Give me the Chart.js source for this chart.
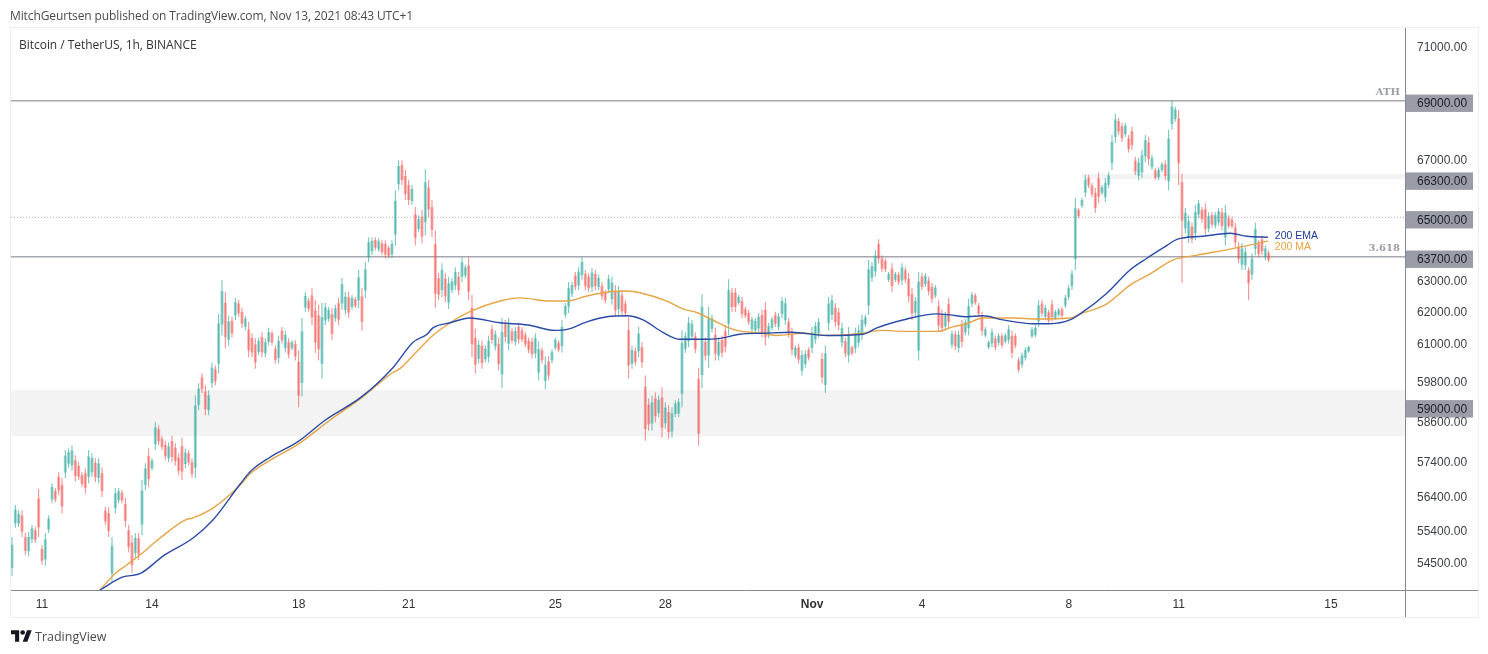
<!DOCTYPE html>
<html><head><meta charset="utf-8">
<script src="https://cdn.jsdelivr.net/npm/chart.js@4"></script>
<style>
html,body{margin:0;padding:0;background:#fff;width:1488px;height:654px;overflow:hidden;font-family:"Open Sans","Liberation Sans",sans-serif}
#wrap{position:relative;width:1488px;height:654px}
canvas{position:absolute;left:0;top:0}
.t{position:absolute;white-space:nowrap;color:#4a4a4a;font-size:12px;line-height:16px}
#frame{position:absolute;left:10px;top:27px;width:1467px;height:589px;border:1px solid #eceef4}
</style></head><body>
<div id="wrap">
<div id="frame"></div>
<canvas id="c" width="1488" height="654"></canvas>
<div class="t" style="left:10px;top:8px;letter-spacing:-.11px">MitchGeurtsen published on TradingView.com, Nov 13, 2021 08:43 UTC+1</div>
<div class="t" style="left:19px;top:37px;color:#333;letter-spacing:-.03px">Bitcoin / TetherUS, 1h, BINANCE</div>
<svg style="position:absolute;left:11px;top:630px" width="21" height="12" viewBox="0 0 36 20"><path fill="#131722" d="M14 20H7V7H0V0h14v20zM28 20h-8L27.500 0h8L28 20z"/><circle fill="#131722" cx="20" cy="4" r="4"/></svg>
<div class="t" style="left:35px;top:629px;font-size:12.500px;color:#4a4a4a">TradingView</div>
</div>
<script>
const dayLabels=['11','14','18','21','25','28','Nov','4','8','11','15'];
const dayTicks=[0,3,7,10,14,17,21,24,28,31,35.15];
const priceTicks=[71000,69000,67000,66300,65000,63700,63000,62000,61000,59800,59000,58600,57400,56400,55400,54500];
const boxedPrices=[69000,66300,65000,63700,59000];
const solidLevels=[69000,63700];
const dottedLevels=[65000];
const zoneLows=[58100,66290];
const zoneHighs=[59490,66460];
const zoneStarts=[-0.845,28.36];
const firstBarDay=-0.818;
const barStepDays=0.0909;

const highs=[
55180,56090,55940,55940,55290,55320,55520,55460,56550,54950,
55290,55800,56720,56580,57040,56870,57690,57740,57830,57540,
57330,57040,57160,57690,57600,57450,57450,57180,56030,56030,
55180,56580,56580,56520,56290,55520,55230,55290,55290,56810,
57300,57740,57450,58520,58430,58120,57970,57920,58120,57890,
57600,58060,57740,57690,57450,59330,59700,60000,59640,59490,
60340,60250,61860,62940,62560,61800,61770,62370,62300,62050,
61800,61610,61250,61090,61120,61280,61090,61420,61340,60870,
61180,61450,61340,61090,61030,61030,60720,61730,62560,62370,
62690,62300,62150,62210,62210,62080,62050,62150,62370,63010,
62560,62560,62460,62400,63270,62690,63520,64340,64340,64340,
64300,64240,64240,64070,64240,65910,66930,66930,66590,66250,
66080,65340,65070,65240,66620,66250,65580,64560,63170,63490,
63170,63050,63010,63360,63200,63680,63430,63680,62460,61390,
61030,61030,60870,61180,61510,61340,61120,61730,61670,61730,
61420,61450,61580,61450,61280,61120,61120,61250,61000,60810,
60530,60530,60750,61120,61030,61670,62210,62880,62880,63200,
63360,63680,63270,63170,63330,63270,63110,62880,62620,63110,
63050,62780,62750,62620,62300,61770,60870,60810,61450,60970,
59940,59240,59330,59420,59330,59580,59120,59030,58970,59180,
59240,61340,61280,61770,61670,61280,60180,62490,61120,62080,
61830,61420,61120,61180,61510,62970,62690,62690,62460,62400,
62080,61990,61770,61730,61890,61990,62240,61580,61770,61930,
61890,62400,62370,61730,61420,60870,60930,60720,60720,60810,
61450,61610,61730,60630,60870,62400,62460,62210,62050,61580,
61120,61450,60870,61420,61510,61830,61830,63590,63520,63910,
64270,63750,63650,63200,63490,63200,63200,63490,63360,63170,
62690,62400,63200,63170,63170,63050,62850,62780,62300,61990,
61930,62370,61340,61340,61340,61670,61700,62340,62560,62520,
62210,61930,61450,61030,61400,61180,61250,61250,61250,61510,
61340,61250,60500,60650,60810,60870,61450,61510,62300,62300,
62150,61990,62300,61990,62050,62080,62460,62780,63270,65650,
65310,65650,66420,66420,66150,65980,66520,66080,66320,66520,
67800,68540,68400,68230,68230,67800,68090,67050,67020,67290,
67800,67730,67120,66660,66690,66860,66930,67980,69000,68790,
68660,66470,65310,65070,64820,65410,65580,65340,65480,65170,
65170,65170,65310,65310,65410,65070,65010,64820,64170,64140,
64010,63360,63810,64820,64240,64400,64070,63910];
const lows=[
54090,55440,55460,55180,54670,54640,55010,55010,55180,54400,
54370,55290,56140,56170,56380,55850,56870,57180,57090,56780,
56810,56610,56430,56720,56900,56750,56720,56320,55520,55180,
53900,55850,56140,56140,55460,54750,54180,54590,54530,55230,
56520,56610,57090,57690,57830,57690,57390,57330,57330,57240,
56950,56810,57160,57240,56870,56870,58880,59400,58730,58730,
59550,59640,60000,61180,60780,60870,61120,61670,61770,61420,
61340,60500,60500,60150,60560,60500,60500,60870,60870,60310,
60310,60930,60650,60470,60720,60400,58970,59300,61930,61930,
61510,60630,60400,59850,61510,61610,61030,61610,61510,61990,
61830,61730,61990,62050,62050,61340,62370,63520,63750,63910,
63850,63750,63650,63650,63650,64070,65910,66080,65580,65410,
65410,64070,64500,64140,64400,65010,64340,62050,62300,62400,
62240,62020,62520,62620,62460,62880,63010,62300,60500,60000,
60310,60150,60340,60340,60930,60720,60090,59550,60970,60720,
60930,60870,60930,60970,60810,60630,60470,60470,59790,60310,
59520,59790,60310,60720,60650,60650,61730,61890,62400,62620,
62620,62950,62620,62560,62560,62620,62620,62300,62210,62520,
62150,61770,61830,61770,61770,59850,60150,60250,60500,60180,
57970,58270,58270,58520,58670,58060,58330,58030,58060,58670,
58670,58970,60630,60810,61030,60630,57830,59550,60400,60180,
61280,60400,60400,60500,60650,61180,61930,61930,62150,61730,
61730,61510,61280,61250,61280,61120,60870,61090,61340,61450,
61340,61730,61510,61120,60560,60470,60310,59940,60180,60400,
60630,60930,61120,59700,59400,61340,61670,61450,61340,60810,
60500,60340,60560,60630,60810,61030,61450,61830,62880,63050,
63490,63200,63200,62880,62560,62880,62780,62780,62850,62240,
61670,61770,60400,62620,62720,62460,62210,62370,61280,61280,
61340,61400,60780,60720,60650,60810,61180,61180,62080,62150,
61770,61180,61120,60750,60810,60720,60870,60780,60930,60930,
60470,60780,60030,60180,60400,60630,61090,61120,61450,61770,
61670,61580,61610,61670,61770,61730,62050,62300,62620,63270,
64970,65310,65680,65980,65680,65140,65480,65750,65510,65980,
66590,67530,67800,67560,67730,67190,67290,66420,66250,66320,
66860,66760,66590,66250,66250,66520,66250,65910,67980,68260,
66080,62850,64470,64140,64140,64240,64970,64820,64400,64500,
64660,64630,64720,64560,64070,64630,64630,64010,63490,63270,
63270,62300,62950,63750,63680,63750,63590,63520];
const bodyHighs=[
54960,55960,55840,55790,55170,55180,55420,55370,56280,54840,
55110,55700,56610,56500,56910,56670,57530,57630,57680,57390,
57230,56950,57010,57500,57460,57310,57300,57010,55930,55860,
54930,56430,56490,56440,56120,55370,55020,55150,55140,56510,
57150,57510,57380,58360,58310,58030,57850,57800,57960,57760,
57470,57810,57620,57600,57330,59030,59540,59880,59450,59330,
60180,60130,61560,62590,62210,61620,61640,62230,62190,61920,
61710,61370,61100,60900,61010,61130,60970,61290,61250,60760,
61010,61330,61200,60970,60970,60910,60360,61310,62430,62280,
62450,61970,61810,61760,62070,61990,61850,62040,62200,62810,
62410,62390,62370,62330,63030,62420,63290,64180,64220,64250,
64210,64140,64120,63990,64120,65550,66730,66760,66390,66080,
65950,65090,64940,65020,66180,66000,65340,64110,63000,63270,
62990,62840,62900,63210,63050,63520,63350,63410,62060,61100,
60890,60860,60770,61010,61380,61220,60920,61290,61530,61530,
61310,61320,61450,61340,61190,61020,60990,61100,60760,60710,
60270,60370,60660,61040,60950,61450,62110,62680,62780,63090,
63210,63530,63140,63050,63180,63140,63010,62760,62540,62980,
62860,62580,62570,62450,62190,61350,60730,60700,61240,60810,
59590,59050,59120,59240,59200,59270,58960,58830,58790,59080,
59130,60940,61150,61580,61550,61150,59830,62090,60980,61710,
61720,61200,60980,61040,61320,62620,62540,62540,62400,62270,
62010,61890,61680,61640,61770,61820,61990,61470,61690,61830,
61780,62270,62200,61610,61230,60790,60810,60570,60610,60730,
61270,61480,61610,60450,60620,62190,62300,62060,61910,61410,
61000,61220,60810,61250,61350,61670,61750,63290,63390,63740,
64120,63640,63560,63140,63310,63140,63120,63350,63260,62980,
62490,62270,62890,63060,63080,62920,62720,62700,62100,61850,
61820,62180,61230,61220,61200,61500,61600,62110,62460,62450,
62120,61780,61370,60970,61280,61090,61170,61160,61190,61380,
61170,61160,60400,60560,60730,60820,61360,61420,62130,62190,
62050,61910,62160,61930,61990,62010,62380,62680,63140,65300,
65240,65580,66270,66330,66060,65810,66310,66010,66160,66410,
67560,68340,68280,68100,68130,67680,67930,66910,66850,67100,
67620,67540,67000,66580,66600,66790,66790,67680,68790,68690,
68380,66180,65150,64870,64690,65180,65460,65240,65270,65040,
65070,65070,65200,65160,65150,64970,64920,64660,64030,63970,
63860,63260,63640,64610,64130,64270,63970,63830];
const bodyLows=[
54310,55570,55560,55330,54790,54780,55110,55100,55450,54510,
54550,55390,56250,56250,56510,56050,57030,57290,57240,56930,
56910,56700,56580,56910,57040,56890,56870,56490,55620,55350,
54150,56000,56230,56220,55630,54900,54390,54730,54680,55530,
56670,56840,57160,57860,57950,57780,57510,57450,57490,57370,
57080,57060,57280,57330,56990,57170,59040,59520,58910,58880,
59710,59760,60300,61530,61130,61050,61250,61810,61880,61550,
61450,60720,60650,60340,60670,60650,60620,60980,60960,60420,
60480,61030,60790,60590,60780,60520,59320,59710,62060,62020,
61750,60960,60750,60300,61650,61700,61230,61720,61680,62190,
61980,61900,62080,62120,62290,61610,62610,63680,63870,64000,
63940,63850,63770,63730,63770,64430,66110,66250,65780,65580,
65540,64320,64610,64360,64840,65260,64580,62500,62470,62620,
62420,62220,62620,62770,62610,63050,63090,62570,60900,60270,
60450,60320,60440,60510,61040,60840,60290,59970,61130,60920,
61020,60980,61060,61060,60900,60730,60600,60620,60030,60410,
59770,59940,60400,60800,60730,60850,61830,62090,62500,62730,
62770,63100,62750,62680,62710,62750,62720,62420,62290,62640,
62330,61970,62010,61940,61880,60250,60300,60360,60690,60350,
58320,58460,58480,58700,58800,58360,58490,58230,58240,58770,
58780,59380,60760,61000,61150,60760,58180,59950,60550,60560,
61390,60610,60550,60640,60820,61550,62080,62080,62210,61860,
61800,61610,61370,61340,61400,61290,61120,61180,61420,61550,
61450,61860,61660,61240,60730,60550,60430,60090,60290,60480,
60790,61060,61240,59880,59650,61570,61830,61600,61500,60960,
60620,60560,60620,60780,60950,61210,61530,62130,63020,63220,
63640,63310,63290,62950,62740,62950,62870,62930,62960,62420,
61870,61900,60710,62730,62810,62580,62340,62450,61500,61420,
61470,61610,60890,60840,60790,60980,61280,61410,62180,62220,
61860,61330,61180,60810,60930,60810,60950,60870,60990,61040,
60640,60870,60120,60270,60480,60680,61160,61190,61620,61880,
61770,61640,61750,61730,61830,61800,62130,62400,62750,63620,
65040,65380,65830,66070,65770,65310,65690,65820,65670,66090,
66830,67730,67920,67690,67830,67310,67450,66540,66400,66510,
67060,66970,66690,66330,66340,66590,66390,66210,68180,68360,
66820,64890,64630,64320,64270,64470,65090,64940,64610,64630,
64760,64730,64830,64710,64330,64710,64700,64170,63630,63440,
63420,62840,63120,63960,63790,63880,63690,63600];
const barColours=(
'GGGRRGGRRR GGGRRRGGGR RRRGGRGRRR GGGRRRRGRG GRGGRRRGRR RRGRRGGRRG GRGGRGRGRR GRRRGRGGRR GRGRGRRGGR RRRGGGRGRG '+
'GRGRGRGGGR GRRRGGGRRR GRGRGRRRRG RGGGRGGRRR GRGGRGRGRG RGRRRRRGGR GRGGRGGGGR GGRRGRGRRG GRGRRRGRGR RRGRGRGRGG '+
'GGGGGRRGRG GRGRRGRRGR RRGGGRRGGR GGGRRGRGGR GGGRGGGRRG RGRGGGGGGG RRRGRGRGRR RGGRGRRGRR GRGRGRGGGR RRGGGRGRGG '+
'RRRGGGGGGR GRRGGRGGGG RGGRRRRGGG GGRRGRRRGG GRGRGGRGGG RRGGRGGRRG RGGRGRRRRG GRGGRRGR').replace(/ /g,'');

const emaDays=[1.58,2.21,2.67,3.30,4.12,4.66,5.40,5.67,6.22,6.98,7.72,8.73,9.57,10.12,10.50,10.66,11.13,11.67,12.49,13.25,13.99,14.32,14.86,15.41,15.95,16.39,16.93,17.40,17.94,18.49,19.03,19.66,20.45,21.41,22.39,22.77,23.59,24.41,24.76,25.22,25.66,26.21,27.02,27.49,28.03,28.31,29.04,29.67,30.13,30.68,30.95,31.66,32.40,32.86,33.43];
const emaValues=[53700,54060,54150,54640,55150,55660,56690,57050,57480,57940,58580,59300,60180,60970,61220,61420,61580,61730,61580,61510,61340,61370,61610,61770,61800,61670,61280,61060,61060,61090,61220,61250,61280,61180,61220,61420,61700,61860,61830,61770,61800,61670,61550,61550,61670,61860,62520,63270,63650,64070,64270,64370,64470,64370,64340];
const maDays=[1.58,1.99,2.32,2.67,3.22,3.90,4.12,4.66,5.40,5.67,6.22,6.98,7.85,8.73,9.57,9.76,10.23,10.66,11.13,11.67,12.49,13.04,13.85,14.32,14.86,15.41,15.95,16.36,17.04,17.48,17.89,18.49,18.95,19.66,20.04,20.75,21.41,22.39,22.85,23.59,24.41,24.84,25.22,25.66,26.48,27.13,28.03,28.31,29.04,29.67,30.22,30.84,31.50,32.40,33.43];
const maValues=[53700,54150,54400,54670,55150,55660,55720,56000,56660,56990,57390,57860,58580,59270,60030,60150,60690,61180,61580,61930,62270,62370,62270,62270,62430,62560,62590,62520,62270,62020,61890,61550,61340,61250,61180,61250,61180,61250,61340,61310,61310,61450,61550,61730,61730,61700,61730,61860,62180,62780,63140,63590,63750,63950,64210];

const xMin=-0.845,xMax=37.17,yMin=53700,yMax=71620;
const TEAL='38,166,154',RED='239,83,80';
const rgb=i=>barColours[i]==='G'?TEAL:RED;
const dayOf=i=>firstBarDay+i*barStepDays;
const count=Math.min(highs.length,lows.length,bodyHighs.length,bodyLows.length,barColours.length);
if(new Set([highs.length,lows.length,bodyHighs.length,bodyLows.length,barColours.length]).size>1)console.error('length mismatch',highs.length,lows.length,bodyHighs.length,bodyLows.length,barColours.length);
const idx=[...Array(count).keys()];
const levelLine=(v,dash)=>({type:'line',order:5,data:[{x:xMin,y:v},{x:xMax,y:v}],borderColor:dash?'#b2b5be':'#a6a8b0',borderWidth:dash?1:1.5,borderDash:dash?[1,2]:[],pointRadius:0});

const overlay={id:'overlay',
 beforeDatasetsDraw(ch){const {ctx,scales:{x,y}}=ch;ctx.save();ctx.fillStyle='#f3f3f3';
  zoneLows.forEach((lo,i)=>{const l=x.getPixelForValue(zoneStarts[i]);const t=y.getPixelForValue(zoneHighs[i]);ctx.fillRect(l,t,x.right-l,y.getPixelForValue(lo)-t)});ctx.restore()},
 afterDraw(ch){const {ctx,chartArea:a,scales:{x,y}}=ch;ctx.save();
  ctx.strokeStyle='#868993';ctx.lineWidth=1;ctx.beginPath();ctx.moveTo(a.right+.5,a.top);ctx.lineTo(a.right+.5,617);ctx.moveTo(a.left,a.bottom+.5);ctx.lineTo(1478,a.bottom+.5);ctx.stroke();
  ctx.textBaseline='middle';
  ctx.font='bold 10px "DejaVu Serif",serif';ctx.fillStyle='#9a9da6';ctx.textAlign='right';
  ctx.fillText('ATH',x.getPixelForValue(37.03),y.getPixelForValue(69000)-8);
  ctx.fillText('3.618',x.getPixelForValue(37.03),y.getPixelForValue(63700)-8);
  ctx.textAlign='left';ctx.font='10.5px "Liberation Sans",sans-serif';
  ctx.fillStyle='#1e3a9a';ctx.fillText('200 EMA',x.getPixelForValue(33.62),y.getPixelForValue(64390));
  ctx.fillStyle='#e8a33d';ctx.fillText('200 MA',x.getPixelForValue(33.62),y.getPixelForValue(64030));
  ctx.restore()}};

new Chart(document.getElementById('c'),{
 type:'bar',
 plugins:[overlay],
 data:{datasets:[
  {type:'line',order:0,data:emaDays.map((d,i)=>({x:d,y:emaValues[i]})),borderColor:'#2a4aa8',borderWidth:1.4,pointRadius:0,cubicInterpolationMode:'monotone'},
  {type:'line',order:1,data:maDays.map((d,i)=>({x:d,y:maValues[i]})),borderColor:'#e6a545',borderWidth:1.4,pointRadius:0,cubicInterpolationMode:'monotone'},
  {order:2,grouped:false,barThickness:3,inflateAmount:0,borderWidth:0,data:idx.map(i=>({x:dayOf(i),y:[bodyLows[i],bodyHighs[i]]})),backgroundColor:idx.map(i=>`rgba(${rgb(i)},.45)`)},
  {order:3,grouped:false,barThickness:1,inflateAmount:0,borderWidth:0,data:idx.map(i=>({x:dayOf(i),y:[lows[i],highs[i]]})),backgroundColor:idx.map(i=>`rgba(${rgb(i)},.7)`)},
  ...solidLevels.map(v=>levelLine(v,false)),
  ...dottedLevels.map(v=>levelLine(v,true))
 ]},
 options:{responsive:false,animation:false,devicePixelRatio:1,
  layout:{padding:{left:11,top:28,right:10,bottom:37}},
  plugins:{legend:{display:false},title:{display:false},tooltip:{enabled:false}},
  scales:{
   x:{type:'linear',min:xMin,max:xMax,offset:false,grid:{display:false,drawTicks:false},border:{display:false},
    afterBuildTicks:s=>{s.ticks=dayTicks.map(value=>({value}))},
    afterFit:s=>{s.height=27},
    ticks:{autoSkip:false,maxRotation:0,padding:7,color:'#333',
      font:c=>({family:'"Liberation Sans",sans-serif',size:12,weight:c.index===6?'bold':'normal'}),
      callback:(v,i)=>dayLabels[i]}},
   y:{type:'logarithmic',position:'right',min:yMin,max:yMax,grid:{display:false,drawTicks:false},border:{display:false},
    afterBuildTicks:s=>{s.ticks=priceTicks.map(value=>({value}))},
    afterFit:s=>{s.width=73;const draw=s.drawLabels;s.drawLabels=function(a){const c=this.ctx;c.save();c.translate(0,1.5);draw.call(this,a);c.restore()}},
    ticks:{autoSkip:false,padding:12,crossAlign:'near',font:{family:'"Liberation Sans",sans-serif',size:12},
      color:c=>boxedPrices.includes(c.tick.value)?'#1c1f28':'#3c3f48',
      showLabelBackdrop:c=>boxedPrices.includes(c.tick.value),
      backdropColor:'#9a9da6',backdropPadding:{left:11,right:6,top:2,bottom:1},
      callback:v=>Number(v).toFixed(2)}}
  }}
});
</script>
</body></html>
